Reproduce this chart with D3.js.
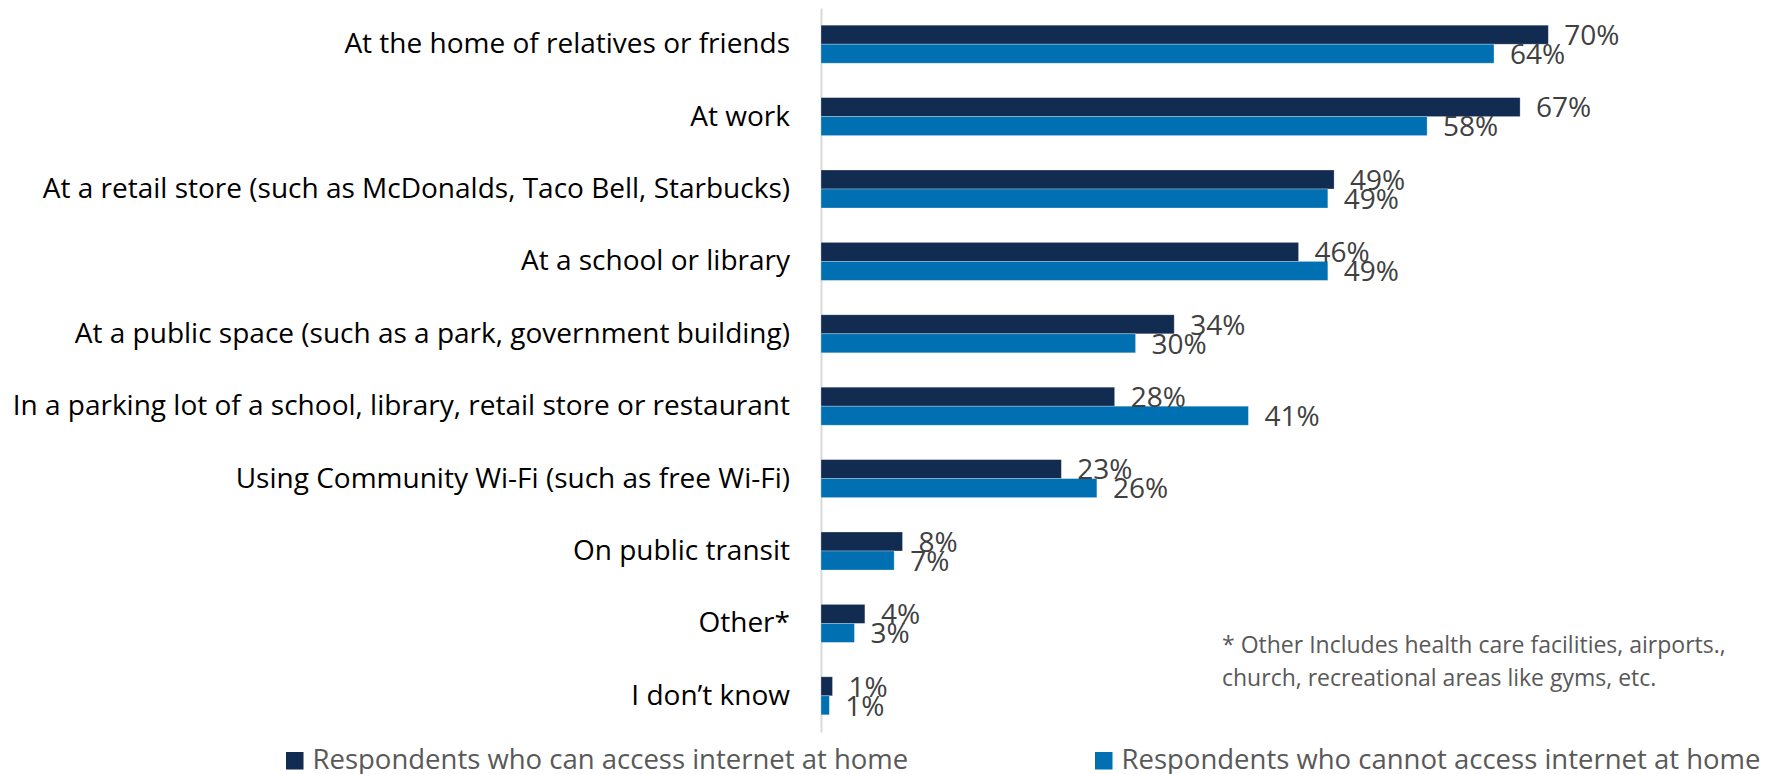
<!DOCTYPE html>
<html>
<head>
<meta charset="utf-8">
<script src="https://cdn.jsdelivr.net/npm/d3@7"></script>
<style>
  html, body { margin: 0; padding: 0; background: #ffffff; }
  svg { display: block; font-family: "Open Sans", "Noto Sans", sans-serif; }
</style>
</head>
<body>
<svg id="chart" width="1773" height="774"></svg>
<script>
const categories = [
  "At the home of relatives or friends",
  "At work",
  "At a retail store (such as McDonalds, Taco Bell, Starbucks)",
  "At a school or library",
  "At a public space (such as a park, government building)",
  "In a parking lot of a school, library, retail store or restaurant",
  "Using Community Wi-Fi (such as free Wi-Fi)",
  "On public transit",
  "Other*",
  "I don\u2019t know"
];
const seriesNames = [
  "Respondents who can access internet at home",
  "Respondents who cannot access internet at home"
];
const canAccess    = [69.6, 66.9, 49.1, 45.7, 33.8, 28.1, 23.0, 7.8, 4.2, 1.1];
const cannotAccess = [64.4, 58.0, 48.5, 48.5, 30.1, 40.9, 26.4, 7.0, 3.2, 0.8];
const footnoteLines = [
  "* Other Includes health care facilities, airports.,",
  "church, recreational areas like gyms, etc."
];

const colors = ["#112b51", "#0070b2"];
const svg = d3.select("#chart");

const x = d3.scaleLinear().domain([0, 70]).range([821, 821 + 70 * 10.45]);
const y = d3.scaleBand().domain(categories).range([8, 732])
  .paddingInner(0.475).paddingOuter(0.2375);
const ySub = d3.scaleBand().domain([0, 1]).range([0, y.bandwidth()]);

const rows = categories.map((c, i) => ({ cat: c, vals: [canAccess[i], cannotAccess[i]] }));

// axis (drawn first, behind bars)
const axis = d3.axisLeft(y).tickSize(0).tickSizeOuter(0).tickPadding(31);
const ax = svg.append("g").attr("transform", `translate(${x(0)},0)`).call(axis);
ax.select(".domain").attr("stroke", "#d9d9d9").attr("stroke-width", 2);
ax.selectAll(".tick text")
  .attr("font-family", "Open Sans, Noto Sans, sans-serif")
  .attr("font-size", 28)
  .attr("fill", "#000000");

// bars
const g = svg.append("g");
const groups = g.selectAll("g.row").data(rows).join("g")
  .attr("class", "row")
  .attr("transform", d => `translate(0,${y(d.cat)})`);

groups.selectAll("rect").data(d => d.vals.map((v, k) => ({ v, k }))).join("rect")
  .attr("x", x(0))
  .attr("y", d => ySub(d.k))
  .attr("width", d => x(d.v) - x(0))
  .attr("height", ySub.bandwidth())
  .attr("fill", d => colors[d.k])
  .attr("stroke", "#ffffff")
  .attr("stroke-opacity", 0.35)
  .attr("stroke-width", 0.8);

const fmt = v => Math.round(v) + "%";
groups.selectAll("text.val").data(d => d.vals.map((v, k) => ({ v, k }))).join("text")
  .attr("class", "val")
  .attr("x", d => x(d.v) + 16)
  .attr("y", d => ySub(d.k) + ySub.bandwidth() / 2)
  .attr("dy", "0.37em")
  .attr("fill", "#404040")
  .attr("font-size", 28)
  .text(d => fmt(d.v));

// footnote
const fn = svg.append("text")
  .attr("x", 1222).attr("y", 653)
  .attr("fill", "#595959").attr("font-size", 23);
fn.selectAll("tspan").data(footnoteLines).join("tspan")
  .attr("x", 1222)
  .attr("y", (d, i) => 653 + i * 33)
  .text(d => d);

// legend
const legendX = [286, 1095];
const lg = svg.selectAll("g.legend").data(seriesNames).join("g")
  .attr("class", "legend")
  .attr("transform", (d, i) => `translate(${legendX[i]},752)`);
lg.append("rect").attr("width", 17.5).attr("height", 17.5).attr("fill", (d, i) => colors[i]);
lg.append("text").attr("x", 26.5).attr("y", 17.2)
  .attr("fill", "#595959").attr("font-size", 27.5)
  .text(d => d);
</script>
</body>
</html>
